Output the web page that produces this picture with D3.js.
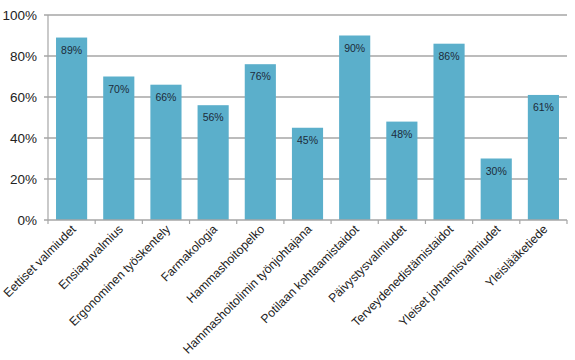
<!DOCTYPE html>
<meta charset="utf-8">
<html>
<head>
  <style>
    body { margin: 0; background: #fff; }
    svg { width: 575px; height: 360px; display: block; }
    text { font-family: 'Liberation Sans', Arial, sans-serif; }
  </style>
  <script src="https://d3js.org/d3.v7.min.js"></script>
</head>
<body>
  <svg></svg>
  <script>
    var categories = ["Eettiset valmiudet", "Ensiapuvalmius", "Ergonominen työskentely",
      "Farmakologia", "Hammashoitopelko", "Hammashoitolimin työnjohtajana",
      "Potilaan kohtaamistaidot", "Päivystysvalmiudet", "Terveydenedistämistaidot",
      "Yleiset johtamisvalmiudet", "Yleislääketiede"];
    var values = [89, 70, 66, 56, 76, 45, 90, 48, 86, 30, 61];
    var yTicks = [0, 20, 40, 60, 80, 100];

    var svg = d3.select("svg");
    var margin = {top: 15, right: 8, bottom: 140, left: 48};
    var width = 575 - margin.left - margin.right;
    var height = 360 - margin.top - margin.bottom;

    var x = d3.scaleBand().domain(categories).range([0, width])
      .paddingInner(0.34).paddingOuter(0.17);
    var y = d3.scaleLinear().domain([0, 100]).range([height, 0]);

    var g = svg.append("g")
      .attr("transform", "translate(" + margin.left + "," + margin.top + ")");

    // gridlines
    g.selectAll(".grid").data(yTicks.slice(1)).enter().append("line")
      .attr("x1", -4).attr("x2", width)
      .attr("y1", function(d) { return y(d); })
      .attr("y2", function(d) { return y(d); })
      .attr("stroke", "#a6a6a6").attr("stroke-width", 1.5);

    // y labels
    g.selectAll(".ylab").data(yTicks).enter().append("text")
      .attr("x", -11).attr("y", function(d) { return y(d); })
      .attr("dy", "0.35em").attr("text-anchor", "end")
      .attr("font-size", 13.5).attr("fill", "#222")
      .text(function(d) { return d + "%"; });

    // bars
    g.selectAll(".bar").data(values).enter().append("rect")
      .attr("x", function(d, i) { return x(categories[i]); })
      .attr("y", function(d) { return y(d); })
      .attr("width", x.bandwidth())
      .attr("height", function(d) { return height - y(d); })
      .attr("fill", "#5bafcb");

    // value labels
    g.selectAll(".val").data(values).enter().append("text")
      .attr("x", function(d, i) { return x(categories[i]) + x.bandwidth() / 2; })
      .attr("y", function(d) { return y(d) + 16; })
      .attr("text-anchor", "middle").attr("font-size", 10.5).attr("fill", "#1c2b3a")
      .text(function(d) { return d + "%"; });

    // axes lines
    g.append("line").attr("x1", 0).attr("x2", 0).attr("y1", 0).attr("y2", height)
      .attr("stroke", "#a6a6a6").attr("stroke-width", 1.2);
    g.append("line").attr("x1", -4).attr("x2", width).attr("y1", height).attr("y2", height)
      .attr("stroke", "#a6a6a6").attr("stroke-width", 1.5);

    // category boundary ticks
    var step = x.step();
    g.selectAll(".tick").data(d3.range(categories.length + 1)).enter().append("line")
      .attr("x1", function(i) { return i * step; })
      .attr("x2", function(i) { return i * step; })
      .attr("y1", height).attr("y2", height + 4)
      .attr("stroke", "#a6a6a6").attr("stroke-width", 1.2);

    // x labels
    g.selectAll(".xlab").data(categories).enter().append("text")
      .attr("transform", function(d) {
        return "translate(" + (x(d) + x.bandwidth() / 2 + 5) + "," + (height + 10) + ") rotate(-45)";
      })
      .attr("text-anchor", "end").attr("font-size", 12.2).attr("fill", "#222")
      .text(function(d) { return d; });
  </script>
</body>
</html>
